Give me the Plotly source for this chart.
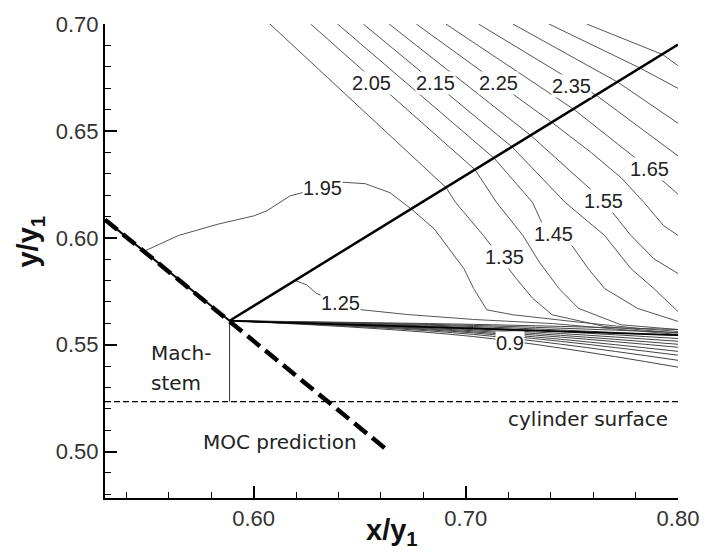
import plotly.graph_objects as go

# ---------------- axes -----------------
x_range = [0.530, 0.800]
y_range = [0.4783, 0.700]
x_ticks = [0.60, 0.70, 0.80]
y_ticks = [0.50, 0.55, 0.60, 0.65, 0.70]

# ---------------- flow features -----------------
moc_x = [0.530, 0.5887, 0.662]
moc_y = [0.6085, 0.5612, 0.5015]
incident_x = [0.530, 0.5887]
incident_y = [0.6085, 0.5612]
reflected_x = [0.5887, 0.800]
reflected_y = [0.5612, 0.6904]
slip_x = [0.5887, 0.800]
slip_y = [0.5612, 0.5545]
stem_x = [0.5887, 0.5887]
stem_y = [0.5612, 0.5234]
cyl_x = [0.530, 0.800]
cyl_y = [0.5234, 0.5234]

# ---------------- Mach contour lines -----------------
c01_x = [0.6077, 0.6907, 0.6952, 0.7083, 0.7238, 0.7315, 0.7407, 0.7654, 0.800]
c01_y = [0.700, 0.6235, 0.6165, 0.6011, 0.5809, 0.5717, 0.5640, 0.5585, 0.5554]
c02_x = [0.6269, 0.7044, 0.7145, 0.7269, 0.7346, 0.7439, 0.7531, 0.7732, 0.800]
c02_y = [0.700, 0.6318, 0.6165, 0.6011, 0.5887, 0.5763, 0.5670, 0.5593, 0.5571]
c03_x = [0.6396, 0.7134, 0.7315, 0.7361, 0.7415, 0.7500, 0.7577, 0.7654, 0.7809, 0.800]
c03_y = [0.700, 0.6372, 0.6165, 0.6064, 0.6018, 0.5964, 0.5856, 0.5763, 0.5670, 0.5609]
c04_x = [0.6517, 0.7219, 0.7469, 0.7654, 0.7778, 0.7886, 0.800]
c04_y = [0.700, 0.6424, 0.6165, 0.6011, 0.5856, 0.5763, 0.5655]
c05_x = [0.6639, 0.7307, 0.7647, 0.7778, 0.7886, 0.800]
c05_y = [0.700, 0.6478, 0.6174, 0.6011, 0.5902, 0.5833]
c06_x = [0.6767, 0.7407, 0.7593, 0.7732, 0.7840, 0.7932, 0.800]
c06_y = [0.700, 0.6539, 0.6397, 0.6281, 0.6165, 0.6057, 0.6011]
c07_x = [0.6906, 0.7509, 0.7867, 0.800]
c07_y = [0.700, 0.6601, 0.6320, 0.6204]
c08_x = [0.7060, 0.7616, 0.800]
c08_y = [0.700, 0.6666, 0.6383]
c09_x = [0.7222, 0.7716, 0.800]
c09_y = [0.700, 0.6728, 0.6536]
c10_x = [0.7392, 0.7823, 0.800]
c10_y = [0.700, 0.6793, 0.6699]
c11_x = [0.7570, 0.7928, 0.800]
c11_y = [0.700, 0.6857, 0.6805]

m195_x = [0.5493, 0.5647, 0.5833, 0.6003, 0.6064, 0.6172, 0.6324, 0.6420, 0.6527,
          0.6643, 0.6744, 0.6852, 0.6991, 0.7037, 0.7099, 0.7222, 0.7500, 0.7809, 0.800]
m195_y = [0.5941, 0.6011, 0.6064, 0.6103, 0.6127, 0.6196, 0.6235, 0.6260, 0.6253,
          0.6211, 0.6134, 0.6041, 0.5856, 0.5763, 0.5663, 0.5640, 0.5609, 0.5577, 0.5562]
m125_x = [0.6195, 0.6250, 0.6296, 0.6412, 0.6512, 0.6727, 0.6958, 0.7037, 0.7407, 0.800]
m125_y = [0.5801, 0.5780, 0.5740, 0.5693, 0.5663, 0.5641, 0.5624, 0.5618, 0.5599, 0.5548]

# slip-line bundle: start at triple point, pass x=0.7037, end at x=0.80
bundle_mid = [0.5595, 0.5590, 0.5585, 0.5580, 0.5575, 0.5570, 0.5565, 0.5560, 0.5555, 0.5548, 0.5538]
bundle_end = [0.5571, 0.5557, 0.5543, 0.5529, 0.5516, 0.5502, 0.5488, 0.5469, 0.5451, 0.5427, 0.5395]
bundle_xs = [0.5887, 0.7037, 0.800]

# contour labels
lab_text = ["2.05", "2.15", "2.25", "2.35", "1.65", "1.55", "1.45", "1.35", "1.95", "1.25", "0.9"]
lab_x = [0.6558, 0.6855, 0.7153, 0.7497, 0.7867, 0.7647, 0.7415, 0.7184, 0.6324, 0.6412, 0.7207]
lab_y = [0.6726, 0.6726, 0.6726, 0.6712, 0.6320, 0.6174, 0.6018, 0.5910, 0.6235, 0.5693, 0.5508]

fig = go.Figure()

contour_style = dict(color="#555555", width=1)
for cx, cy in [(c01_x, c01_y), (c02_x, c02_y), (c03_x, c03_y), (c04_x, c04_y),
               (c05_x, c05_y), (c06_x, c06_y), (c07_x, c07_y), (c08_x, c08_y),
               (c09_x, c09_y), (c10_x, c10_y), (c11_x, c11_y),
               (m195_x, m195_y), (m125_x, m125_y)]:
    fig.add_trace(go.Scatter(x=cx, y=cy, mode="lines", line=contour_style,
                             hoverinfo="skip", showlegend=False))
for ym, ye in zip(bundle_mid, bundle_end):
    fig.add_trace(go.Scatter(x=bundle_xs, y=[0.5612, ym, ye], mode="lines",
                             line=dict(color="#444444", width=1), line_shape="spline",
                             hoverinfo="skip", showlegend=False))

fig.add_trace(go.Scatter(x=cyl_x, y=cyl_y, mode="lines",
                         line=dict(color="black", width=1.2, dash="6px,3px"),
                         hoverinfo="skip", showlegend=False))
fig.add_trace(go.Scatter(x=stem_x, y=stem_y, mode="lines",
                         line=dict(color="#333333", width=1),
                         hoverinfo="skip", showlegend=False))
fig.add_trace(go.Scatter(x=slip_x, y=slip_y, mode="lines",
                         line=dict(color="black", width=1.8),
                         hoverinfo="skip", showlegend=False))
fig.add_trace(go.Scatter(x=reflected_x, y=reflected_y, mode="lines",
                         line=dict(color="black", width=2.5),
                         hoverinfo="skip", showlegend=False))
fig.add_trace(go.Scatter(x=incident_x, y=incident_y, mode="lines",
                         line=dict(color="black", width=2),
                         hoverinfo="skip", showlegend=False))
fig.add_trace(go.Scatter(x=moc_x, y=moc_y, mode="lines",
                         line=dict(color="black", width=4.5, dash="16px,7px"),
                         hoverinfo="skip", showlegend=False))

label_font = dict(family="Liberation Sans, Arial, sans-serif", size=20, color="#222222")
for t, lx, ly in zip(lab_text, lab_x, lab_y):
    fig.add_annotation(x=lx, y=ly, text=t, showarrow=False, font=label_font,
                       bgcolor="white", borderpad=0)

text_font = dict(family="DejaVu Sans, sans-serif", size=20, color="#222222")
fig.add_annotation(x=0.5508, y=0.5460, text="Mach-", showarrow=False, font=text_font,
                   xanchor="left", yanchor="middle")
fig.add_annotation(x=0.5508, y=0.5321, text="stem", showarrow=False, font=text_font,
                   xanchor="left", yanchor="middle")
fig.add_annotation(x=0.5754, y=0.5043, text="MOC prediction", showarrow=False, font=text_font,
                   xanchor="left", yanchor="middle")
fig.add_annotation(x=0.7962, y=0.5154, text="cylinder surface", showarrow=False, font=text_font,
                   xanchor="right", yanchor="middle")

title_font = dict(family="Liberation Sans, Arial, sans-serif", size=29, color="#111111")
fig.add_annotation(xref="paper", yref="paper", x=0.5, y=-0.072,
                   text="<b>x/y<sub>1</sub></b>", showarrow=False, font=title_font,
                   xanchor="center", yanchor="middle")
fig.add_annotation(xref="paper", yref="paper", x=-0.13, y=0.54,
                   text="<b>y/y<sub>1</sub></b>", showarrow=False, font=title_font,
                   textangle=-90, xanchor="center", yanchor="middle")

tick_font = dict(family="Liberation Sans, Arial, sans-serif", size=22, color="#333333")
fig.update_xaxes(range=x_range, tickvals=x_ticks, tickformat=".2f", tickfont=tick_font,
                 ticklabeloverflow="allow",
                 showline=True, linecolor="black", linewidth=2, ticks="inside",
                 ticklen=12, tickwidth=2, tickcolor="black", showgrid=False, zeroline=False,
                 minor=dict(ticks="inside", ticklen=6, tickwidth=1, tickcolor="black",
                            dtick=0.02, tick0=0.60, showgrid=False))
fig.update_yaxes(range=y_range, tickvals=y_ticks, tickformat=".2f", tickfont=tick_font,
                 ticklabeloverflow="allow",
                 showline=True, linecolor="black", linewidth=2, ticks="inside",
                 ticklen=12, tickwidth=2, tickcolor="black", showgrid=False, zeroline=False,
                 minor=dict(ticks="inside", ticklen=6, tickwidth=1, tickcolor="black",
                            dtick=0.01, tick0=0.50, showgrid=False))

fig.update_layout(width=711, height=554, margin=dict(l=105, r=23, t=20, b=56),
                  plot_bgcolor="white", paper_bgcolor="white", showlegend=False)

# remove the browser's default 8px body margin so the figure fills the window exactly
fig.write_html("out.html", config={"displayModeBar": False},
               post_script="document.body.style.margin='0px';document.body.style.overflow='hidden';")
